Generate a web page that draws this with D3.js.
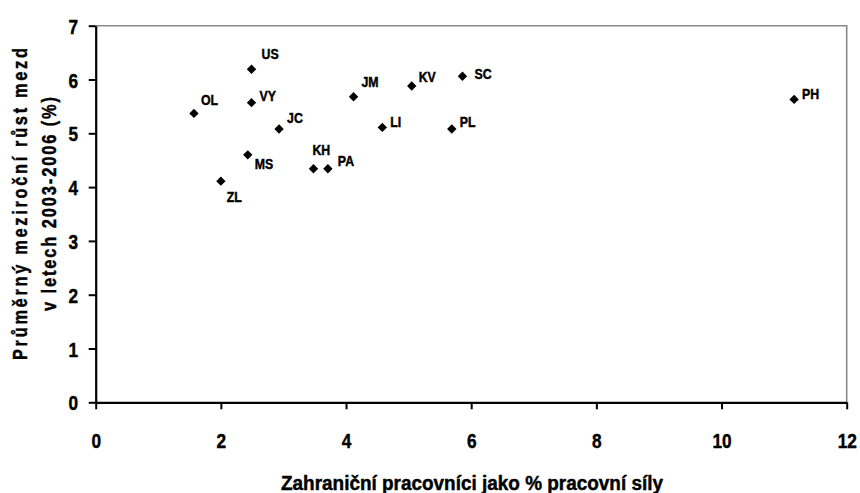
<!DOCTYPE html>
<html>
<head>
<meta charset="utf-8">
<script src="https://cdn.jsdelivr.net/npm/d3@7"></script>
<style>
  body { margin: 0; background: #fff; }
  svg { display: block; }
  text { font-family: "Liberation Sans", Arial, sans-serif; font-weight: bold; fill: #000; }
  .heavy { stroke: #000; stroke-width: 0.45px; }
</style>
</head>
<body>
<svg id="chart" width="860" height="493"></svg>
<script>
// regions (kraje) - codes
var regions = ['US', 'VY', 'OL', 'JC', 'MS', 'ZL', 'KH', 'PA', 'JM', 'LI', 'KV', 'SC', 'PL', 'PH'];
// foreign workers as % of labour force
var foreignShare = [2.49, 2.49, 1.57, 2.93, 2.43, 2.00, 3.48, 3.71, 4.12, 4.58, 5.05, 5.86, 5.69, 11.16];
// average yearly wage growth 2003-2006 (%)
var wageGrowth = [6.19, 5.57, 5.37, 5.08, 4.60, 4.11, 4.34, 4.34, 5.68, 5.11, 5.88, 6.06, 5.08, 5.63];

var xTicks = [0, 2, 4, 6, 8, 10, 12];
var yTicks = [0, 1, 2, 3, 4, 5, 6, 7];

var xTitle = 'Zahraniční pracovníci jako % pracovní síly';
var yTitle = ['Průměrný meziroční růst mezd', 'v letech 2003-2006 (%)'];

// where each data label sits relative to its marker (left edge, baseline)
var labelNudge = {
    US: [10, -10], VY: [8, -2], OL: [7, -8], JC: [8, -6], MS: [7, 14], ZL: [6, 21],
    KH: [-1, -14], PA: [10, -3], JM: [8, -10], LI: [8, 0], KV: [7, -4], SC: [12, 3],
    PL: [8, -2], PH: [8, 0]
};

var NARROW = 0.82; // no narrow font installed, squeeze the glyphs instead

function condense(sel) {
    sel.each(function () {
        var len = this.getComputedTextLength();
        d3.select(this)
            .attr('textLength', len * NARROW)
            .attr('lengthAdjust', 'spacingAndGlyphs');
    });
}

var svg = d3.select('#chart');
var margin = { top: 25.7, right: 13.3, bottom: 90.7, left: 95.7 };
var width = 860 - margin.left - margin.right;
var height = 493 - margin.top - margin.bottom;

var x = d3.scaleLinear().domain([0, 12]).range([0, width]);
var y = d3.scaleLinear().domain([0, 7]).range([height, 0]);

var g = svg.append('g').attr('transform', 'translate(' + margin.left + ',' + margin.top + ')');

// plot area border (top + right, grey)
g.append('path')
    .attr('d', 'M0,0H' + width + 'V' + height)
    .attr('fill', 'none')
    .attr('stroke', '#8a8a8a')
    .attr('stroke-width', 1.6);

var xAxis = g.append('g')
    .attr('transform', 'translate(0,' + height + ')')
    .call(d3.axisBottom(x).tickValues(xTicks).tickSize(7).tickSizeOuter(0).tickFormat(d3.format('d')));
xAxis.selectAll('text').attr('y', 46).attr('dy', null).style('font-size', '21px');

var yAxis = g.append('g')
    .call(d3.axisLeft(y).tickValues(yTicks).tickSize(7).tickSizeOuter(0).tickFormat(d3.format('d')));
yAxis.selectAll('text').attr('x', -17.7).attr('dy', '0.36em').style('font-size', '21px');

[xAxis, yAxis].forEach(function (a) {
    a.select('.domain').attr('stroke', '#000').attr('stroke-width', 2.2);
    a.selectAll('.tick line').attr('stroke', '#000').attr('stroke-width', 2);
    a.attr('font-family', null).attr('font-size', null);
    a.selectAll('text').classed('heavy', true);
    condense(a.selectAll('text'));
});

var points = regions.map(function (r, i) {
    return { code: r, x: foreignShare[i], y: wageGrowth[i] };
});

var marker = d3.symbol().type(d3.symbolSquare).size(44);

g.append('g').selectAll('path')
    .data(points)
  .enter().append('path')
    .attr('d', marker)
    .attr('fill', '#000')
    .attr('transform', function (d) {
        return 'translate(' + x(d.x) + ',' + y(d.y) + ') rotate(45)';
    });

var labels = g.append('g').selectAll('text')
    .data(points)
  .enter().append('text')
    .attr('class', 'heavy')
    .attr('x', function (d) { return x(d.x) + labelNudge[d.code][0]; })
    .attr('y', function (d) { return y(d.y) + labelNudge[d.code][1]; })
    .style('font-size', '15px')
    .text(function (d) { return d.code; });
condense(labels);

// axis titles
svg.append('text')
    .attr('class', 'heavy')
    .attr('x', 472)
    .attr('y', 490)
    .attr('text-anchor', 'middle')
    .attr('textLength', 382)
    .attr('lengthAdjust', 'spacingAndGlyphs')
    .style('font-size', '20px')
    .text(xTitle);

// y title: condensed glyphs, spread out letters
var yt = svg.append('g').attr('transform', 'translate(0,204) rotate(-90) scale(' + NARROW + ',1)');
yt.append('text')
    .attr('class', 'heavy')
    .attr('x', 0).attr('y', 27)
    .attr('text-anchor', 'middle')
    .attr('textLength', 312 / NARROW)
    .attr('lengthAdjust', 'spacing')
    .style('font-size', '20px')
    .text(yTitle[0]);
yt.append('text')
    .attr('class', 'heavy')
    .attr('x', 0).attr('y', 56)
    .attr('text-anchor', 'middle')
    .attr('textLength', 214 / NARROW)
    .attr('lengthAdjust', 'spacing')
    .style('font-size', '20px')
    .text(yTitle[1]);
</script>
</body>
</html>
